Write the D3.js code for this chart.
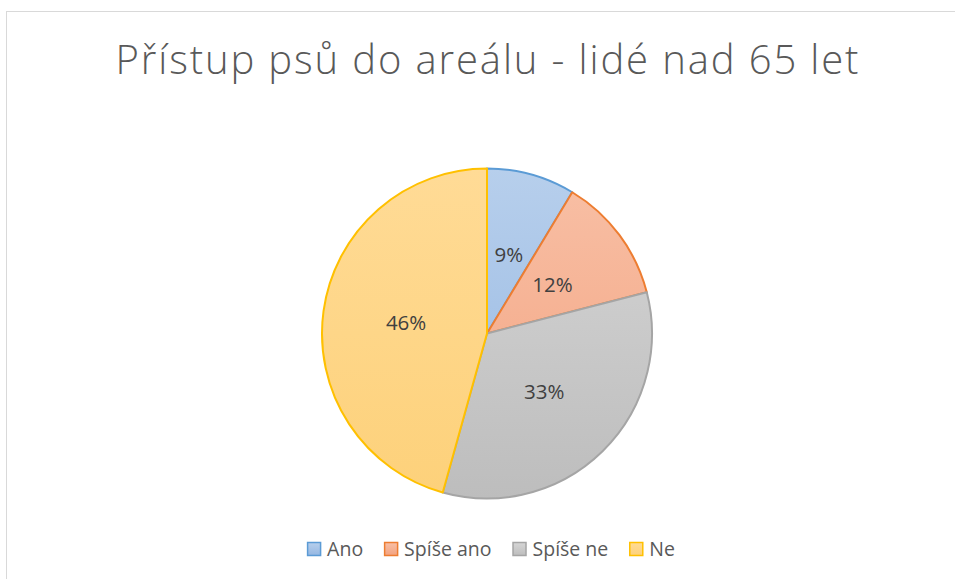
<!DOCTYPE html>
<html>
<head>
<meta charset="utf-8">
<script src="https://cdn.jsdelivr.net/npm/d3@7"></script>
<style>
  body { margin: 0; background: #fff; }
  svg { display: block; }
</style>
</head>
<body>
<div id="chart"></div>
<script>
// data
var categories = ["Ano", "Spíše ano", "Spíše ne", "Ne"];
var counts = [7, 10, 27, 37];
var title = "Přístup psů do areálu - lidé nad 65 let";

// colours (border, gradient top, gradient bottom)
var strokeColors = ["#5b9bd5", "#ed7d31", "#a5a5a5", "#ffc000"];
var topColors = ["#b7cfec", "#f8c0a6", "#d6d6d6", "#ffdb96"];
var bottomColors = ["#95b7e2", "#f3a27f", "#bdbdbd", "#fdd17a"];

var width = 955, height = 579;
var cx = 487, cy = 333.5, radius = 165;
var font = "'Open Sans', 'Noto Sans', sans-serif";

var svg = d3.select("#chart").append("svg")
  .attr("width", width)
  .attr("height", height);

// chart area border
svg.append("rect")
  .attr("x", 6.5).attr("y", 11.5)
  .attr("width", 970).attr("height", 600)
  .attr("fill", "#fff")
  .attr("stroke", "#d9d9d9")
  .attr("stroke-width", 1);

var defs = svg.append("defs");
categories.forEach(function (c, i) {
  // slice gradient, spans whole pie
  var g = defs.append("linearGradient")
    .attr("id", "grad" + i)
    .attr("gradientUnits", "userSpaceOnUse")
    .attr("x1", 0).attr("y1", -radius)
    .attr("x2", 0).attr("y2", radius);
  g.append("stop").attr("offset", "0%").attr("stop-color", topColors[i]);
  g.append("stop").attr("offset", "100%").attr("stop-color", bottomColors[i]);
  // legend swatch gradient
  var lg = defs.append("linearGradient")
    .attr("id", "lg" + i)
    .attr("x1", 0).attr("y1", 0).attr("x2", 0).attr("y2", 1);
  lg.append("stop").attr("offset", "0%").attr("stop-color", topColors[i]);
  lg.append("stop").attr("offset", "100%").attr("stop-color", bottomColors[i]);
});

// title
svg.append("text")
  .attr("x", cx)
  .attr("y", 74)
  .attr("text-anchor", "middle")
  .attr("font-family", font)
  .attr("font-size", 40)
  .attr("font-weight", 300)
  .attr("fill", "#595959")
  .attr("textLength", 743)
  .attr("lengthAdjust", "spacing")
  .text(title);

var total = d3.sum(counts);
var pie = d3.pie().sort(null).value(function (d) { return d; });
var arcs = pie(counts);
var arc = d3.arc().innerRadius(0).outerRadius(radius);
var labelArc = d3.arc().innerRadius(0).outerRadius(radius * 0.99);

var g = svg.append("g").attr("transform", "translate(" + cx + "," + cy + ")");

g.selectAll("path.slice")
  .data(arcs)
  .join("path")
  .attr("class", "slice")
  .attr("d", arc)
  .attr("fill", function (d, i) { return "url(#grad" + i + ")"; })
  .attr("stroke", function (d, i) { return strokeColors[i]; })
  .attr("stroke-width", 2)
  .attr("stroke-linejoin", "round");

g.selectAll("text.lbl")
  .data(arcs)
  .join("text")
  .attr("class", "lbl")
  .attr("transform", function (d) { return "translate(" + labelArc.centroid(d) + ")"; })
  .attr("text-anchor", "middle")
  .attr("dy", "0.35em")
  .attr("font-family", font)
  .attr("font-size", 20.5)
  .attr("fill", "#404040")
  .text(function (d) { return Math.round(d.data / total * 100) + "%"; });

// legend
var legend = svg.append("g").attr("transform", "translate(0,549)");
var items = legend.selectAll("g.item")
  .data(categories)
  .join("g")
  .attr("class", "item");

items.append("rect")
  .attr("x", 0.5).attr("y", -6.5)
  .attr("width", 13).attr("height", 13)
  .attr("fill", function (d, i) { return "url(#lg" + i + ")"; })
  .attr("stroke", function (d, i) { return strokeColors[i]; })
  .attr("stroke-width", 1.5);

items.append("text")
  .attr("x", 20)
  .attr("y", 0)
  .attr("dy", "0.35em")
  .attr("font-family", font)
  .attr("font-size", 19.5)
  .attr("fill", "#595959")
  .text(function (d) { return d; });

var x = 0;
var offsets = [];
items.each(function () {
  var w = d3.select(this).select("text").node().getComputedTextLength();
  offsets.push(x);
  x += 20 + w + 21;
});
var totalW = x - 21;
var startX = 491 - totalW / 2;
items.attr("transform", function (d, i) { return "translate(" + (startX + offsets[i]) + ",0)"; });
</script>
</body>
</html>
